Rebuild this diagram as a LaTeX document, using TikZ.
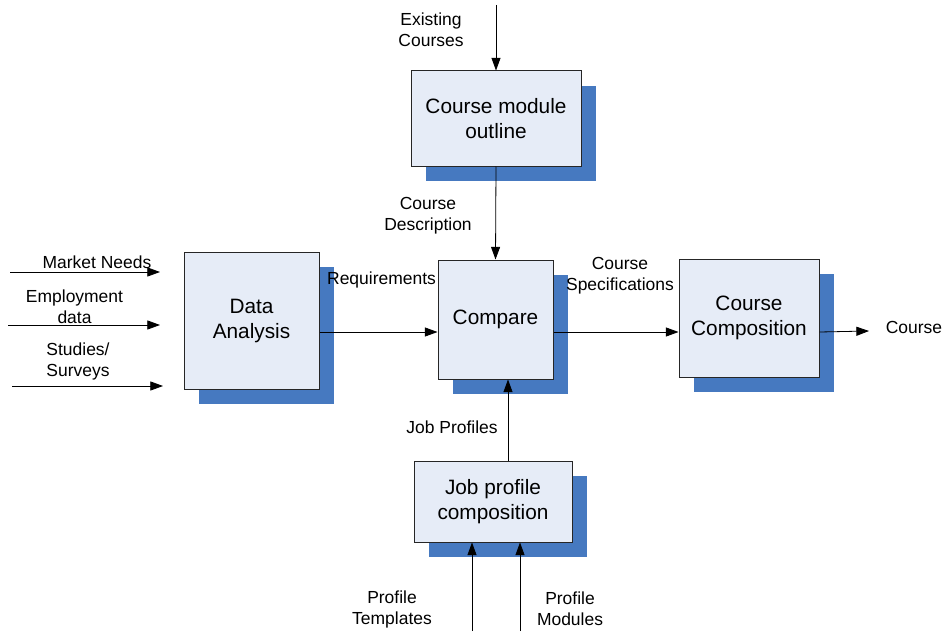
\documentclass[tikz,border=0pt]{standalone}
\usepackage{fontspec}
\setmainfont{Liberation Sans}
\usetikzlibrary{arrows.meta,shadows}
\definecolor{boxfill}{RGB}{230,236,247}
\definecolor{shade}{RGB}{70,121,192}
\tikzset{
  proc/.style n args={2}{draw=black!85, line width=0.75pt, fill=boxfill,
    minimum width=#1*0.75pt, minimum height=#2*0.75pt, inner sep=0pt,
    align=center, font=\fontsize{15.6}{18.75}\selectfont,
    drop shadow={shadow xshift=11.25pt, shadow yshift=-11.25pt, fill=shade, opacity=1}},
  lbl/.style={align=center, inner sep=0pt, font=\fontsize{13.1}{15.75}\selectfont},
  flow/.style={line width=0.6pt, -{Triangle[length=9.5pt,width=6.8pt]}}
}
\begin{document}
\begin{tikzpicture}[x=0.75pt,y=-0.75pt]
\useasboundingbox (0,0) rectangle (944,631);
% process boxes
\node[proc={170}{95}]  (cmo) at (496,118.5) {Course module\\outline};
\node[proc={135}{137}] (da)  at (251.5,320.5) {Data\\Analysis};
\node[proc={115}{119}] (cmp) at (495.5,319.5) {Compare};
\node[proc={140}{118}] (cc)  at (749,318) {Course\\Composition};
\node[proc={158}{81}]  (jp)  at (493,501.5) {Job profile\\composition};
% labels
\node[lbl] (lec)  at (431,29.5) {Existing\\Courses};
\node[lbl] (lcd)  at (428,215.5) {Course\\Description};
\node[lbl] (lreq) at (381.5,280) {Requirements};
\node[lbl] (lcs)  at (620,276) {Course\\Specifications};
\node[lbl] (lc)   at (914,327) {Course};
\node[lbl] (ljp)  at (452,427) {Job Profiles};
\node[lbl] (lpt)  at (392,609.5) {Profile\\Templates};
\node[lbl] (lpm)  at (570,609) {Profile\\Modules};
\node[lbl] (lmn)  at (97,262) {Market Needs};
\node[lbl] (led)  at (74.5,306.5) {Employment\\data};
\node[lbl] (lss)  at (78,361.5) {Studies/\\Surveys};
% free ends
\coordinate (ecin) at (496,5);
\coordinate (row) at (0,332);
\coordinate (outc) at (869,331);
\coordinate (jpx) at (508,0);
\coordinate (ptin) at (472,631);
\coordinate (pmin) at (520,631);
\coordinate (mn0) at (10,272);
\coordinate (mn1) at (160,272);
\coordinate (ed0) at (8,325);
\coordinate (ed1) at (160,325);
\coordinate (ss0) at (12,386);
\coordinate (ss1) at (163,386);
% connectors
\draw[flow] (ecin) -- (cmo.north);
\draw[flow] (cmo.south) -- (cmp.north);
\draw[flow] (da.east |- row) -- (cmp.west |- row);
\draw[flow] (cmp.east |- row) -- (cc.west |- row);
\draw[flow] (cc.east |- row) -- (outc);
\draw[flow] (jp.north -| jpx) -- (cmp.south -| jpx);
\draw[flow] (ptin) -- (jp.south -| ptin);
\draw[flow] (pmin) -- (jp.south -| pmin);
\draw[flow] (mn0) -- (mn1);
\draw[flow] (ed0) -- (ed1);
\draw[flow] (ss0) -- (ss1);
\end{tikzpicture}
\end{document}
